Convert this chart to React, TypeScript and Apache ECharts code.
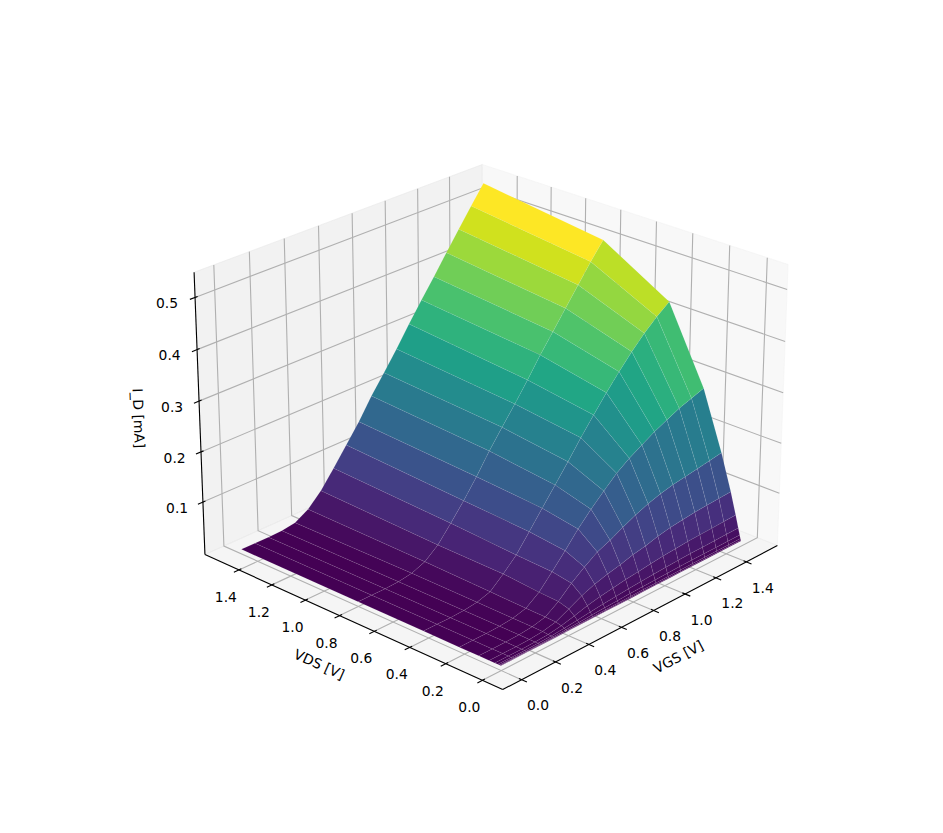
import React, { useEffect, useRef } from "react";
import * as echarts from "echarts";

// Grid values
const VGS = [0, 0.0789, 0.1579, 0.2368, 0.3158, 0.3947, 0.4737, 0.5526, 0.6316, 0.7105, 0.7895, 0.8684, 0.9474, 1.0263, 1.1053, 1.1842, 1.2632, 1.3421, 1.4211, 1.5];
const VDS = [1.5, 0.8017, 0.4285, 0.229, 0.1224, 0.0654, 0.035, 0.0187, 0.01, 0.00535, 0.00286, 0.00153];
const ID_VDS_1500 = [0.0034, 0.0032, 0.003, 0.0042, 0.0083, 0.0235, 0.0498, 0.0838, 0.1199, 0.1561, 0.1974, 0.2337, 0.271, 0.3111, 0.3492, 0.3861, 0.4244, 0.4617, 0.4987, 0.5347];
const ID_VDS_802 = [0.0032, 0.0033, 0.003, 0.0045, 0.0086, 0.0192, 0.0402, 0.0715, 0.1046, 0.1408, 0.1804, 0.2161, 0.2512, 0.2878, 0.3265, 0.3618, 0.3975, 0.4332, 0.4689, 0.5016];
const ID_VDS_429 = [0.0032, 0.0032, 0.003, 0.0042, 0.0075, 0.0155, 0.038, 0.0629, 0.0967, 0.1309, 0.1648, 0.199, 0.2345, 0.2679, 0.3004, 0.3305, 0.3589, 0.3842, 0.4062, 0.4251];
const ID_VDS_229 = [0.003, 0.003, 0.003, 0.004, 0.0065, 0.013, 0.0318, 0.0596, 0.0884, 0.1188, 0.1453, 0.1692, 0.1921, 0.2098, 0.2244, 0.239, 0.2507, 0.2624, 0.2711, 0.2797];
const ID_VDS_122 = [0.003, 0.003, 0.003, 0.0038, 0.0063, 0.0125, 0.03, 0.053, 0.072, 0.089, 0.1, 0.113, 0.1251, 0.135, 0.143, 0.149, 0.153, 0.157, 0.161, 0.1656];
const ID_VDS_065 = [0.003, 0.003, 0.003, 0.0037, 0.0058, 0.0115, 0.024, 0.037, 0.047, 0.054, 0.06, 0.067, 0.072, 0.079, 0.084, 0.087, 0.09, 0.092, 0.0935, 0.095];
const ID_VDS_035 = [0.003, 0.003, 0.003, 0.0035, 0.005, 0.009, 0.015, 0.022, 0.027, 0.031, 0.035, 0.038, 0.041, 0.044, 0.046, 0.048, 0.049, 0.05, 0.051, 0.052];
const ID_VDS_019 = [0.003, 0.003, 0.003, 0.0035, 0.0045, 0.0065, 0.009, 0.012, 0.015, 0.017, 0.019, 0.021, 0.0225, 0.024, 0.025, 0.026, 0.0265, 0.027, 0.0277, 0.028];
const ID_VDS_010 = [0.003, 0.003, 0.003, 0.0033, 0.004, 0.005, 0.006, 0.0075, 0.0088, 0.0098, 0.011, 0.0118, 0.0125, 0.013, 0.0138, 0.0142, 0.0145, 0.0148, 0.015, 0.015];
const ID_VDS_005 = [0.003, 0.003, 0.003, 0.0031, 0.0034, 0.0038, 0.0044, 0.005, 0.0055, 0.006, 0.0065, 0.0069, 0.0072, 0.0075, 0.0078, 0.008, 0.0082, 0.0083, 0.0084, 0.0085];
const ID_VDS_003 = [0.003, 0.003, 0.003, 0.003, 0.0031, 0.0033, 0.0036, 0.0039, 0.0041, 0.0044, 0.0046, 0.0048, 0.005, 0.0051, 0.0052, 0.0053, 0.0054, 0.0054, 0.0055, 0.0055];
const ID_VDS_002 = [0.003, 0.003, 0.003, 0.003, 0.003, 0.0031, 0.0032, 0.0034, 0.0035, 0.0036, 0.0037, 0.0038, 0.0039, 0.0039, 0.004, 0.004, 0.0041, 0.0041, 0.0042, 0.0042];
const ID_ROWS = [ID_VDS_1500, ID_VDS_802, ID_VDS_429, ID_VDS_229, ID_VDS_122, ID_VDS_065, ID_VDS_035, ID_VDS_019, ID_VDS_010, ID_VDS_005, ID_VDS_003, ID_VDS_002];

// Axes
const X_RANGE = [-0.109375, 1.609375];
const Y_RANGE = [-0.109375, 1.609375];
const Z_RANGE = [-0.006, 0.5476];
const XY_TICKS = [0, 0.2, 0.4, 0.6, 0.8, 1.0, 1.2, 1.4];
const Z_TICKS = [0.1, 0.2, 0.3, 0.4, 0.5];
const X_LABEL = "VGS [V]";
const Y_LABEL = "VDS [V]";
const Z_LABEL = "I_D [mA]";

const VIRIDIS = ["#440154", "#471365", "#482475", "#46337f", "#414487", "#3b528b", "#355f8d", "#2f6c8e", "#2a788e", "#26828e", "#21918c", "#1f9e89", "#22a884", "#35b779", "#44bf70", "#5ec962", "#7ad151", "#98d83e", "#bddf26", "#dde318", "#fde725"];

// Camera
const ELEV = (24.5 * Math.PI) / 180;
const AZIM = (-137 * Math.PI) / 180;
const DIST = 10;
const SCALE = 3465;
const CX = 491.9;
const CY = 411.8;
const BOX = [25 / 21, 25 / 21, (25 / 21) * 0.75];
const ce = Math.cos(ELEV), se = Math.sin(ELEV), ca = Math.cos(AZIM), sa = Math.sin(AZIM);
const W = [ce * ca, ce * sa, se];
const U = [-sa, ca, 0];
const V = [-se * ca, -se * sa, ce];

function project(x: number, y: number, z: number) {
  const P = [
    ((x - X_RANGE[0]) / (X_RANGE[1] - X_RANGE[0]) - 0.5) * BOX[0],
    ((y - Y_RANGE[0]) / (Y_RANGE[1] - Y_RANGE[0]) - 0.5) * BOX[1],
    ((z - Z_RANGE[0]) / (Z_RANGE[1] - Z_RANGE[0]) - 0.5) * BOX[2],
  ];
  const dot = (a: number[]) => a[0] * P[0] + a[1] * P[1] + a[2] * P[2];
  const den = DIST - dot(W);
  return { sx: CX + (SCALE * dot(U)) / den, sy: CY - (SCALE * dot(V)) / den, den };
}

function hexRgb(h: string) {
  return [parseInt(h.slice(1, 3), 16), parseInt(h.slice(3, 5), 16), parseInt(h.slice(5, 7), 16)];
}
function viridis(t: number) {
  const c = Math.max(0, Math.min(1, t)) * (VIRIDIS.length - 1);
  const i = Math.min(VIRIDIS.length - 2, Math.floor(c));
  const f = c - i;
  const a = hexRgb(VIRIDIS[i]), b = hexRgb(VIRIDIS[i + 1]);
  return `rgb(${a.map((v, k) => Math.round(v + (b[k] - v) * f)).join(",")})`;
}

// Surface cells, far to near
type Cell = { corners: number[][]; avg: number; depth: number };
function buildCells(): Cell[] {
  const cells: Cell[] = [];
  for (let r = 0; r < VDS.length - 1; r++) {
    for (let c = 0; c < VGS.length - 1; c++) {
      const corners = [
        [VGS[c], VDS[r], ID_ROWS[r][c]],
        [VGS[c + 1], VDS[r], ID_ROWS[r][c + 1]],
        [VGS[c + 1], VDS[r + 1], ID_ROWS[r + 1][c + 1]],
        [VGS[c], VDS[r + 1], ID_ROWS[r + 1][c]],
      ];
      const avg = corners.reduce((s, p) => s + p[2], 0) / 4;
      const depth = corners.reduce((s, p) => s + project(p[0], p[1], p[2]).den, 0) / 4;
      cells.push({ corners, avg, depth });
    }
  }
  return cells.sort((a, b) => b.depth - a.depth);
}

type Seg = number[];
function gridSegments(): Seg[] {
  const [x0, x1] = X_RANGE, [y0, y1] = Y_RANGE, [z0, z1] = Z_RANGE;
  const segs: Seg[] = [];
  XY_TICKS.forEach((t) => {
    segs.push([t, y0, z0, t, y1, z0, t, y1, z1]);
    segs.push([x0, t, z0, x1, t, z0, x1, t, z1]);
  });
  Z_TICKS.forEach((t) => segs.push([x0, y1, t, x1, y1, t, x1, y0, t]));
  return segs;
}

const TICK_OUT = 0.0286;
const TICK_IN = 0.0143;
function axisSegments(): Seg[] {
  const [x0, x1] = X_RANGE, [y0, y1] = Y_RANGE, [z0, z1] = Z_RANGE;
  const segs: Seg[] = [
    [x0, y0, z0, x1, y0, z0],
    [x0, y0, z0, x0, y1, z0],
    [x0, y1, z0, x0, y1, z1],
  ];
  XY_TICKS.forEach((t) => {
    segs.push([t, y0 - TICK_OUT, z0, t, y0 + TICK_IN, z0]);
    segs.push([x0 - TICK_OUT, t, z0, x0 + TICK_IN, t, z0]);
  });
  Z_TICKS.forEach((t) => segs.push([x0 - TICK_OUT, y1, t, x0 + TICK_IN, y1, t]));
  return segs;
}

type Lab = { text: string; x: number; y: number; rot: number; size: number };
function labels(): Lab[] {
  const [x0] = X_RANGE, [y0, y1] = Y_RANGE, [z0] = Z_RANGE;
  const out: Lab[] = [];
  XY_TICKS.forEach((t) => {
    const a = project(t, y0, z0);
    out.push({ text: t.toFixed(1), x: a.sx + 16.5, y: a.sy + 25.7, rot: 0, size: 13.89 });
    const b = project(x0, t, z0);
    out.push({ text: t.toFixed(1), x: b.sx - 13, y: b.sy + 27, rot: 0, size: 13.89 });
  });
  Z_TICKS.forEach((t) => {
    const a = project(x0, y1, t);
    out.push({ text: t.toFixed(1), x: a.sx - 28 + (0.5 - t) * 5.5, y: a.sy + 5.8, rot: 0, size: 13.89 });
  });
  out.push({ text: X_LABEL, x: 678.3, y: 656.7, rot: (27.8 * Math.PI) / 180, size: 13.89 });
  out.push({ text: Y_LABEL, x: 319.3, y: 664.3, rot: (-24.2 * Math.PI) / 180, size: 13.89 });
  out.push({ text: Z_LABEL, x: 138.7, y: 418.3, rot: (-87.7 * Math.PI) / 180, size: 13.89 });
  return out;
}

function buildOption() {
  const [x0, x1] = X_RANGE, [y0, y1] = Y_RANGE, [z0, z1] = Z_RANGE;
  const panes = [
    { c: [[x0, y1, z0], [x1, y1, z0], [x1, y1, z1], [x0, y1, z1]], fill: "rgba(230,230,230,0.5)" },
    { c: [[x1, y0, z0], [x1, y1, z0], [x1, y1, z1], [x1, y0, z1]], fill: "rgba(242,242,242,0.5)" },
    { c: [[x0, y0, z0], [x1, y0, z0], [x1, y1, z0], [x0, y1, z0]], fill: "rgba(236,236,236,0.5)" },
  ];
  const grid = gridSegments();
  const axes = axisSegments();
  const cells = buildCells();
  const labs = labels();
  const avgs = cells.map((c) => c.avg);
  const lo = Math.min(...avgs), hi = Math.max(...avgs);
  const poly3 = (flat: number[]) => {
    const pts: number[][] = [];
    for (let i = 0; i < flat.length; i += 3) {
      const p = project(flat[i], flat[i + 1], flat[i + 2]);
      pts.push([p.sx, p.sy]);
    }
    return pts;
  };
  const base = { type: "custom", coordinateSystem: "none", silent: true, clip: false, animation: false };
  return {
    animation: false,
    backgroundColor: "#ffffff",
    series: [
      {
        ...base, z: 1,
        data: panes.map((_, i) => [i]),
        renderItem: (p: any) => {
          const pane = panes[p.dataIndex];
          return {
            type: "polygon",
            shape: { points: poly3(pane.c.flat()) },
            style: { fill: pane.fill, stroke: pane.fill, lineWidth: 1 },
          };
        },
      },
      {
        ...base, z: 2,
        data: grid.map((_, i) => [i]),
        renderItem: (p: any) => ({
          type: "polyline",
          shape: { points: poly3(grid[p.dataIndex]) },
          style: { fill: "none", stroke: "#b0b0b0", lineWidth: 1.11 },
        }),
      },
      {
        ...base, z: 3,
        data: axes.map((_, i) => [i]),
        renderItem: (p: any) => ({
          type: "polyline",
          shape: { points: poly3(axes[p.dataIndex]) },
          style: { fill: "none", stroke: "#000000", lineWidth: 1.11 },
        }),
      },
      {
        ...base, z: 4,
        data: cells.map((_, i) => [i]),
        renderItem: (p: any) => {
          const cell = cells[p.dataIndex];
          return {
            type: "polygon",
            shape: { points: poly3(cell.corners.flat()) },
            style: { fill: viridis((cell.avg - lo) / (hi - lo)), stroke: "rgba(255,255,255,0.13)", lineWidth: 0.5 },
          };
        },
      },
      {
        ...base, z: 5,
        data: labs.map((_, i) => [i]),
        renderItem: (p: any) => {
          const l = labs[p.dataIndex];
          return {
            type: "text",
            x: l.x,
            y: l.y,
            rotation: l.rot,
            style: {
              text: l.text,
              fontSize: l.size,
              fontFamily: "DejaVu Sans",
              fill: "#000000",
              align: "center",
              verticalAlign: "middle",
            },
          };
        },
      },
    ],
  };
}

export default function App() {
  const ref = useRef<HTMLDivElement>(null);
  useEffect(() => {
    document.body.style.margin = "0";
    document.body.style.overflow = "hidden";
    const chart = echarts.init(ref.current!, undefined, { renderer: "svg" });
    chart.setOption(buildOption() as any);
    return () => chart.dispose();
  }, []);
  return <div ref={ref} style={{ width: 943, height: 833 }} />;
}
